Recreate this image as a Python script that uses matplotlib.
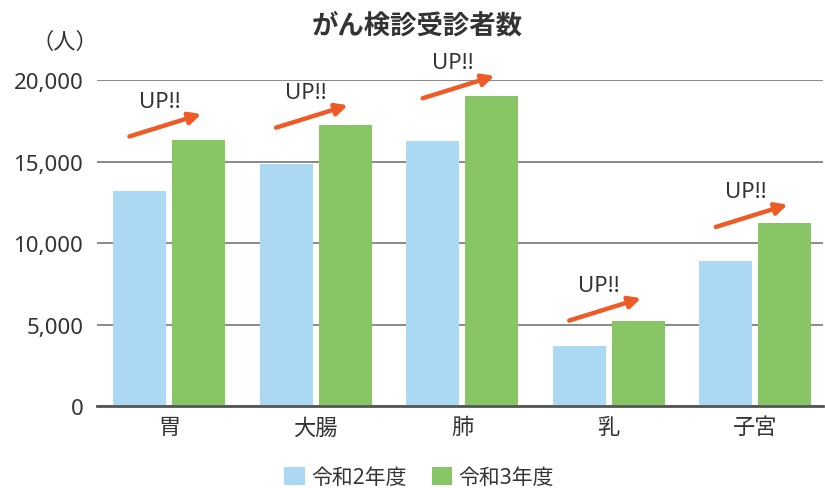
import matplotlib.pyplot as plt
import numpy as np

plt.rcParams['font.family'] = ['Noto Sans', 'Noto Sans CJK JP', 'DejaVu Sans']

sites = ['胃', '大腸', '肺', '乳', '子宮']
r2 = [13190, 14850, 16240, 3710, 8890]
r3 = [16310, 17230, 19010, 5240, 11270]
series_names = ['令和2年度', '令和3年度']
# where each "UP!!" arrow starts
arrow_base = [16550, 17090, 18890, 5260, 11000]
yticks = [0, 5000, 10000, 15000, 20000]

blue = '#ABD9F3'
green = '#88C665'
orange = '#EF5B27'
txt = '#333333'

fig = plt.figure(figsize=(8.25, 4.89), dpi=100)
ax = fig.add_axes([0.1176, 0.167, 0.880, 0.667])

x = np.arange(len(sites))
w = 0.3615
off = 0.201
b1 = ax.bar(x - off, r2, w, color=blue, label=series_names[0], zorder=2)
b2 = ax.bar(x + off, r3, w, color=green, label=series_names[1], zorder=2)

ax.set_ylim(0, 20000)
ax.set_xlim(-0.491, 4.461)
ax.set_yticks(yticks)
ax.set_yticklabels([f'{v:,}' for v in yticks])
ax.yaxis.grid(True, color='#808080', linewidth=1.3, zorder=0)
ax.set_axisbelow(True)
ax.set_xticks(x)
ax.set_xticklabels(sites)
ax.tick_params(axis='both', length=0, labelsize=16, colors=txt)
ax.tick_params(axis='y', pad=10)
ax.tick_params(axis='x', pad=8)
for s in ['top', 'right', 'left']:
    ax.spines[s].set_visible(False)
ax.spines['bottom'].set_color('#555555')
ax.spines['bottom'].set_linewidth(2)
ax.spines['bottom'].set_zorder(3)

for i, yb in enumerate(arrow_base):
    ax.annotate('', xy=(i + 0.22, yb + 1370), xytext=(i - 0.27, yb),
                arrowprops=dict(arrowstyle='-|>,head_length=0.7,head_width=0.35',
                                color=orange, lw=3.2, shrinkA=0, shrinkB=0),
                annotation_clip=False, zorder=4)
    ax.text(i - 0.065, yb + 2170, 'UP!!', ha='center', va='center',
            fontsize=16, color=txt, clip_on=False)

fig.text(0.506, 0.945, 'がん検診受診者数', ha='center', va='center',
         fontsize=19, fontweight='bold', color=txt)
fig.text(0.079, 0.912, '（人）', ha='center', va='center', fontsize=16, color=txt)

leg = fig.legend(handles=[b1, b2], loc='center', bbox_to_anchor=(0.508, 0.022),
                 ncol=2, frameon=False, fontsize=15, handlelength=1.0,
                 handleheight=1.0, handletextpad=0.3, columnspacing=1.2)
for t in leg.get_texts():
    t.set_color(txt)

fig.savefig('out.png', dpi=100)
